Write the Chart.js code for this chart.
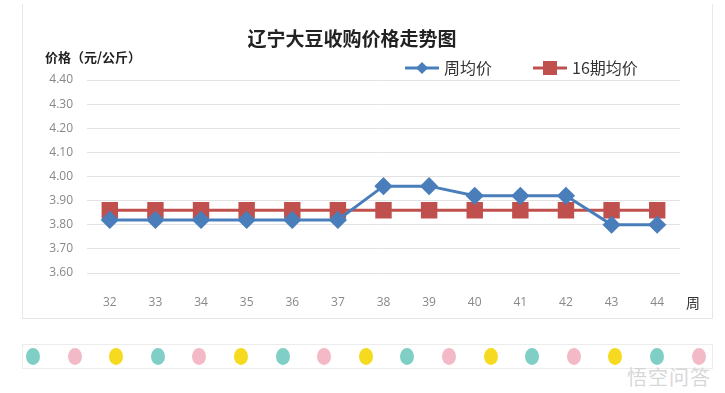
<!DOCTYPE html>
<html>
<head>
<meta charset="utf-8">
<script src="https://cdn.jsdelivr.net/npm/chart.js@4"></script>
<style>
  body { margin: 0; background: #fff; width: 725px; height: 393px; overflow: hidden; position: relative; font-family: "Noto Sans CJK SC", sans-serif; }
  #card { position: absolute; left: 22px; top: 4px; width: 689px; height: 314px; border: 1px solid #e8e8e8; border-top: none; }
  #wrap { position: absolute; left: 0; top: 0; width: 725px; height: 330px; }
  #strip { position: absolute; left: 22px; top: 344px; width: 689px; height: 23px; border: 1px solid #ececec; }
  .dot { position: absolute; top: 3px; width: 14px; height: 17px; border-radius: 50%; }
  #mark { position: absolute; right: 14px; top: 362px; font-size: 20px; color: rgba(205,205,205,0.8); letter-spacing: 1px; }
</style>
</head>
<body>
<div id="card"></div>
<div id="wrap"><canvas id="myChart" width="725" height="330"></canvas></div>
<div id="strip"></div>
<div id="mark">悟空问答</div>
<script>
var weeks = ['32', '33', '34', '35', '36', '37', '38', '39', '40', '41', '42', '43', '44'];
var weeklyAvg = [3.82, 3.82, 3.82, 3.82, 3.82, 3.82, 3.96, 3.96, 3.92, 3.92, 3.92, 3.80, 3.80];
var avg16 = [3.86, 3.86, 3.86, 3.86, 3.86, 3.86, 3.86, 3.86, 3.86, 3.86, 3.86, 3.86, 3.86];
var yMin = 3.60, yMax = 4.40, yStep = 0.10;

// decorative dots under the chart
var dotColors = ['#7fcfc6', '#f4b9c6', '#f6da1f'];
var strip = document.getElementById('strip');
for (var i = 0; i < 17; i++) {
    var d = document.createElement('div');
    d.className = 'dot';
    d.style.left = (3 + i * 41.6) + 'px';
    d.style.background = dotColors[i % 3];
    strip.appendChild(d);
}

var extras = {
    id: 'extras',
    afterDraw: function(chart) {
        var c = chart.ctx, a = chart.chartArea;
        c.save();
        c.fillStyle = '#222';
        c.font = 'bold 19px "Noto Sans CJK SC"';
        c.textAlign = 'center';
        c.textBaseline = 'middle';
        c.fillText('辽宁大豆收购价格走势图', 352, 39);

        c.font = 'bold 13px "Noto Sans CJK SC"';
        c.textAlign = 'left';
        c.fillText('价格（元/公斤）', 45, 57);

        c.font = '14px "Noto Sans CJK SC"';
        c.fillStyle = '#333';
        c.fillText('周', a.right + 6, 303);

        // legend
        var items = [[405, 0], [533, 1]];
        items.forEach(function(it) {
            var ds = chart.data.datasets[it[1]];
            var x = it[0], y = 68;
            c.strokeStyle = ds.borderColor;
            c.lineWidth = 3;
            c.beginPath(); c.moveTo(x, y); c.lineTo(x + 34, y); c.stroke();
            c.fillStyle = ds.borderColor;
            c.beginPath();
            if (ds.pointStyle === 'rectRot') {
                c.moveTo(x + 17, y - 6); c.lineTo(x + 23, y); c.lineTo(x + 17, y + 6); c.lineTo(x + 11, y);
            } else {
                c.rect(x + 10, y - 7, 14, 14);
            }
            c.fill();
            c.fillStyle = '#333';
            c.font = '16px "Noto Sans CJK SC"';
            c.fillText(ds.label, x + 39, y);
        });
        c.restore();
    }
};

var ctx = document.getElementById('myChart').getContext('2d');
var myChart = new Chart(ctx, {
    type: 'line',
    data: {
        labels: weeks,
        datasets: [{
            label: '周均价',
            data: weeklyAvg,
            borderColor: '#4a7ebb',
            backgroundColor: '#4a7ebb',
            borderWidth: 3,
            pointStyle: 'rectRot',
            pointRadius: 7,
            pointHoverRadius: 7,
            tension: 0
        }, {
            label: '16期均价',
            data: avg16,
            borderColor: '#c0504d',
            backgroundColor: '#c0504d',
            borderWidth: 3,
            pointStyle: 'rect',
            pointRadius: 9.5,
            pointHoverRadius: 9.5,
            tension: 0
        }]
    },
    options: {
        responsive: false,
        animation: false,
        layout: { padding: { top: 80, left: 45, right: 45, bottom: 17 } },
        plugins: {
            legend: { display: false },
            title: { display: false },
            tooltip: { enabled: false }
        },
        scales: {
            x: {
                offset: true,
                grid: { display: false },
                border: { display: false },
                ticks: { color: '#888', font: { size: 12, family: 'Open Sans' }, padding: 14 },
                afterFit: function(s) { s.height = 40; }
            },
            y: {
                min: yMin,
                max: yMax,
                grid: { color: '#e2e2e2', drawTicks: false },
                border: { display: false },
                ticks: {
                    stepSize: yStep,
                    color: '#888',
                    padding: 14,
                    font: { size: 12, family: 'Open Sans' },
                    callback: function(v) { return v.toFixed(2); }
                },
                afterFit: function(s) { s.width = 42; }
            }
        }
    },
    plugins: [extras]
});
</script>
</body>
</html>
